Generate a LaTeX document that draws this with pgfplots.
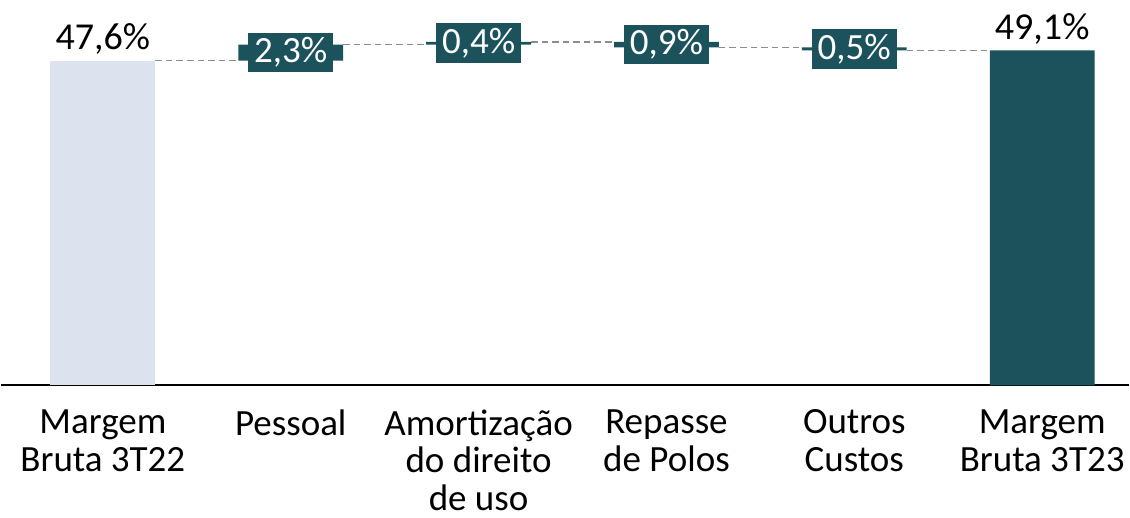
\documentclass[border=0pt]{standalone}
\usepackage{pgfplots}
\pgfplotsset{compat=1.18}
\usepackage{fontspec}
\setmainfont{Carlito}
\definecolor{teal1}{HTML}{1B525C}
\definecolor{light1}{HTML}{DCE3EE}
\begin{document}
\begin{tikzpicture}
\begin{axis}[
    scale only axis,
    width=15cm, height=5.124cm,
    xmin=-0.542, xmax=5.462,
    ymin=0, ymax=56.5,
    axis x line*=bottom,
    axis y line=none,
    axis line style={black, line width=0.8pt, -},
    xtick={0,...,5},
    xticklabels={{Margem\\Bruta 3T22}, Pessoal, {Amortização\\do direito\\de uso}, {Repasse\\de Polos}, {Outros\\Custos}, {Margem\\Bruta 3T23}},
    xticklabel style={align=center, font=\fontsize{14}{14.3}\selectfont, text=black,
        inner xsep=0pt, inner ysep=2.5pt, yshift=-6.5pt},
    major tick length=0pt,
    ybar stacked,
    bar width=0.558,
    clip=false,
]
% keep the full plot area in the picture
\path (rel axis cs:0,0) rectangle (rel axis cs:1,1);
% invisible base
\addplot[draw=none, fill=none] coordinates {(0,0) (1,47.6) (2,49.95) (3,49.55) (4,49.1) (5,0)};
% first bar
\addplot[draw=none, fill=light1] coordinates {(0,47.6) (1,0) (2,0) (3,0) (4,0) (5,0)};
% variations and final bar
\addplot[draw=none, fill=teal1] coordinates {(0,0) (1,2.35) (2,0.4) (3,0.8) (4,0.45) (5,49.1)};
\end{axis}
\begin{axis}[
    scale only axis,
    width=15cm, height=5.124cm,
    xmin=-0.542, xmax=5.462,
    ymin=0, ymax=56.5,
    hide axis,
    clip=false,
]
% connectors
\addplot[gray!90, line width=0.5pt, dash pattern=on 2.5pt off 1.5pt] coordinates {(0.279,47.6) (0.721,47.6)};
\addplot[gray!90, line width=0.5pt, dash pattern=on 2.5pt off 1.5pt] coordinates {(1.279,49.95) (1.721,49.95)};
\addplot[gray!90, line width=0.5pt, dash pattern=on 2.5pt off 1.5pt] coordinates {(2.279,50.35) (2.721,50.35)};
\addplot[gray!90, line width=0.5pt, dash pattern=on 2.5pt off 1.5pt] coordinates {(3.279,49.55) (3.721,49.55)};
\addplot[gray!90, line width=0.5pt, dash pattern=on 2.5pt off 1.5pt] coordinates {(4.279,49.1) (4.721,49.1)};
% boxed labels of the variations
\addplot[draw=none, mark=none, nodes near coords, point meta=explicit symbolic,
    nodes near coords style={anchor=center, fill=teal1, text=white,
        font=\fontsize{14}{14}\selectfont, minimum width=32pt, minimum height=15pt, inner sep=1pt}]
    coordinates {(1,48.775)[2,3\%] (2,50.15)[0,4\%] (3,49.95)[0,9\%] (4,49.325)[0,5\%]};
% labels of the totals
\addplot[draw=none, mark=none, nodes near coords, point meta=explicit symbolic,
    nodes near coords style={anchor=south, text=black, font=\fontsize{14.4}{14.4}\selectfont, inner sep=2pt}]
    coordinates {(0,47.6)[47,6\%] (5,49.1)[49,1\%]};
\end{axis}
\end{tikzpicture}
\end{document}
